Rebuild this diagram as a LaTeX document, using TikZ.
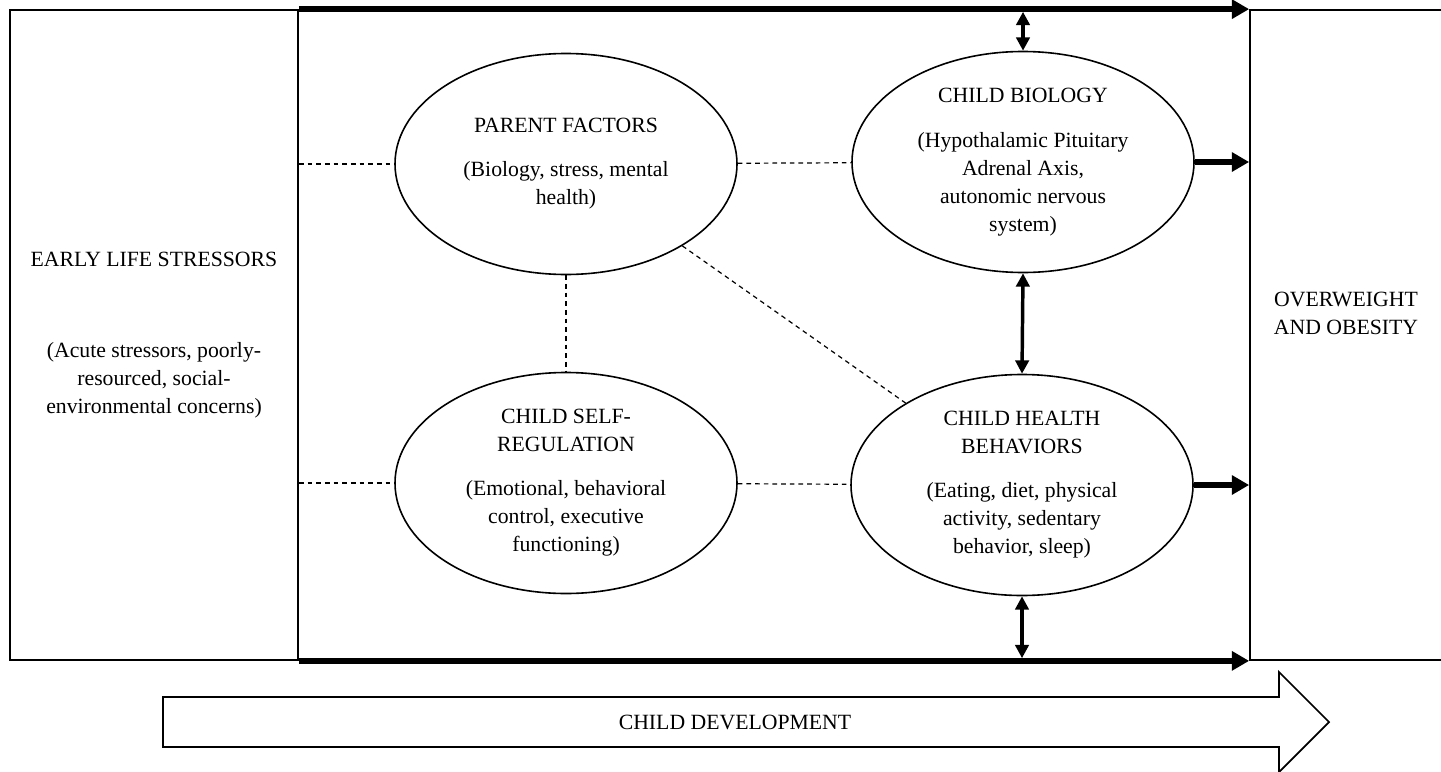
\documentclass[tikz,border=0pt]{standalone}
\usepackage{fontspec}
\setmainfont{Liberation Serif}
\usetikzlibrary{shapes.geometric,arrows.meta,calc}
\tikzset{
  box/.style={draw, line width=1.3pt, rectangle, inner sep=0pt, align=center},
  oval/.style={draw, ellipse, line width=1.2pt, minimum width=256.5pt, minimum height=165.75pt, inner sep=0pt, align=center},
  link/.style={dash pattern=on 3.5pt off 3pt, line width=0.9pt},
  flow/.style={line width=4pt, -{Triangle[length=13pt,width=14pt]}},
  twoway/.style={line width=2.6pt, {Triangle[length=10pt,width=10pt]}-{Triangle[length=10pt,width=10pt]}},
  label/.style={inner sep=0pt, align=center},
}
\begin{document}
\begin{tikzpicture}[x=0.75pt, y=-0.75pt, font=\fontsize{16.3}{21}\selectfont]
\useasboundingbox (0,0) rectangle (1441,771);
% side boxes
\node[box, minimum width=216pt, minimum height=487.5pt] (esl) at (154,335)
  {EARLY LIFE STRESSORS\\[47pt](Acute stressors, poorly-\\resourced, social-\\environmental concerns)};
\node[box, minimum width=144pt, minimum height=487.5pt] (ob) at (1346,335) {};
\node[label] (obt) at (1346,313) {OVERWEIGHT\\AND OBESITY};
% ellipses
\node[oval] (pf) at (566,164) {PARENT FACTORS\\[12pt](Biology, stress, mental\\health)};
\node[oval] (cb) at (1023,162) {CHILD BIOLOGY\\[13pt](Hypothalamic Pituitary\\Adrenal Axis,\\autonomic nervous\\system)};
\node[oval] (sr) at (566,483) {CHILD SELF-\\REGULATION\\[12pt](Emotional, behavioral\\control, executive\\functioning)};
\node[oval] (chb) at (1022,485) {CHILD HEALTH\\BEHAVIORS\\[12pt](Eating, diet, physical\\activity, sedentary\\behavior, sleep)};
% thick flow arrows
\draw[flow] (esl.north east) -- (ob.north west);
\draw[flow] (esl.south east) -- (ob.south west);
\draw[flow] (cb.east) -- (cb.east -| ob.west);
\draw[flow] (chb.east) -- (chb.east -| ob.west);
% two-way arrows
\draw[twoway, shorten >=2pt] (cb.north) -- (cb.north |- esl.north);
\draw[twoway] (cb.south) -- (chb.north);
\draw[twoway, shorten >=2pt] (chb.south) -- (chb.south |- esl.south);
% dashed links
\draw[link] (pf.west -| esl.east) -- (pf.west);
\draw[link] (sr.west -| esl.east) -- (sr.west);
\draw[link] (pf) -- (cb);
\draw[link] (pf) -- (sr);
\draw[link] (pf) -- (chb);
\draw[link] (sr) -- (chb);
% child development arrow
\draw[line width=1.3pt] (163,697) -- (1279,697) -- (1279,672) -- (1329,722) -- (1279,772) -- (1279,747) -- (163,747) -- cycle;
\node[label] (cd) at (735,722) {CHILD DEVELOPMENT};
\end{tikzpicture}
\end{document}
